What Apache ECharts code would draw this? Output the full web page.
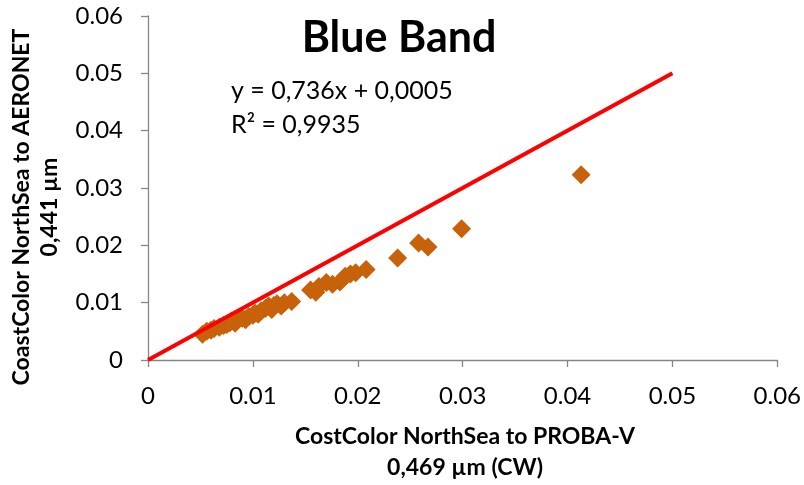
<!DOCTYPE html>
<html><head><meta charset="utf-8">
<script src="https://cdn.jsdelivr.net/npm/echarts@6/dist/echarts.min.js"></script>
<style>html,body{margin:0;padding:0;background:#fff}#c{width:804px;height:485px}</style>
</head><body><div id="c"></div>
<script>
var xValues = [0.0052,0.0056,0.0060,0.0063,0.0068,0.0072,0.0075,0.0078,0.0080,0.0083,0.0086,0.0090,0.0093,0.0096,0.0100,0.0102,0.0105,0.0108,0.0112,0.0115,0.0118,0.0120,0.0123,0.0127,0.0130,0.0137,
  0.0155,0.0160,0.0163,0.0170,0.0176,0.0183,0.0188,0.0193,0.0198,0.0208,
  0.0238,0.0258,0.0267,0.0299,0.0413];
var yValues = [0.0045,0.0050,0.0052,0.0055,0.0057,0.0060,0.0062,0.0065,0.0068,0.0064,0.0070,0.0073,0.0070,0.0076,0.0078,0.0082,0.0080,0.0086,0.0090,0.0094,0.0088,0.0095,0.0098,0.0094,0.0100,0.0102,
  0.0122,0.0118,0.0128,0.0135,0.0132,0.0136,0.0146,0.0150,0.0152,0.0158,
  0.0178,0.0204,0.0197,0.0229,0.0323];
var refLineX = [0, 0.05];
var refLineY = [0, 0.05];
var tickValues = [0, 0.01, 0.02, 0.03, 0.04, 0.05, 0.06];
var chartTitle = 'Blue Band';
var equationLines = ['y = 0,736x + 0,0005', 'R² = 0,9935'];
var xTitleLines = ['CostColor NorthSea to PROBA-V', '0,469 µm (CW)'];
var yTitleLines = ['CoastColor NorthSea to AERONET', '0,441 µm'];

var pts = xValues.map(function(x,i){return [x, yValues[i]];});
var line = refLineX.map(function(x,i){return [x, refLineY[i]];});
var font = 'Lato, "Open Sans", sans-serif';
var chart = echarts.init(document.getElementById('c'));
function axis(margin){
  return {
    type:'value', min:0, max:0.06, interval:0.01,
    axisLine:{show:true, lineStyle:{color:'#868686', width:1.3}},
    axisTick:{show:true, length:7, lineStyle:{color:'#868686', width:1.3}},
    splitLine:{show:false},
    axisLabel:{color:'#000', fontSize:24, fontFamily:font, margin:margin,
      formatter:function(v){ var r=+(+v).toFixed(2); return tickValues.indexOf(r)>=0 ? String(r) : ''; }}
  };
}
chart.setOption({
  animation:false,
  grid:{left:148, right:25, top:16, bottom:125, containLabel:false},
  xAxis: axis(24),
  yAxis: axis(25),
  series:[
    {type:'scatter', data:pts, symbol:'diamond', symbolSize:19, itemStyle:{color:'#c8620a', opacity:1}, z:2},
    {type:'line', data:line, symbol:'none', lineStyle:{color:'#ff0000', width:4}, z:3}
  ],
  graphic:[
    {type:'text', x:399, y:38, style:{text:chartTitle, fontSize:43, fontWeight:'bold', fontFamily:font, fill:'#000', align:'center', verticalAlign:'middle'}},
    {type:'text', x:231, y:91, style:{text:equationLines[0], fontSize:25, fontFamily:font, fill:'#000', align:'left', verticalAlign:'middle'}},
    {type:'text', x:231, y:125, style:{text:equationLines[1], fontSize:25, fontFamily:font, fill:'#000', align:'left', verticalAlign:'middle'}},
    {type:'text', x:465, y:437, style:{text:xTitleLines[0], fontSize:23, fontWeight:'bold', fontFamily:font, fill:'#000', align:'center', verticalAlign:'middle'}},
    {type:'text', x:465, y:468, style:{text:xTitleLines[1], fontSize:23, fontWeight:'bold', fontFamily:font, fill:'#000', align:'center', verticalAlign:'middle'}},
    {type:'text', x:22, y:207, rotation:Math.PI/2, style:{text:yTitleLines[0], fontSize:23, fontWeight:'bold', fontFamily:font, fill:'#000', align:'center', verticalAlign:'middle'}},
    {type:'text', x:50, y:207, rotation:Math.PI/2, style:{text:yTitleLines[1], fontSize:23, fontWeight:'bold', fontFamily:font, fill:'#000', align:'center', verticalAlign:'middle'}}
  ]
});
</script></body></html>
